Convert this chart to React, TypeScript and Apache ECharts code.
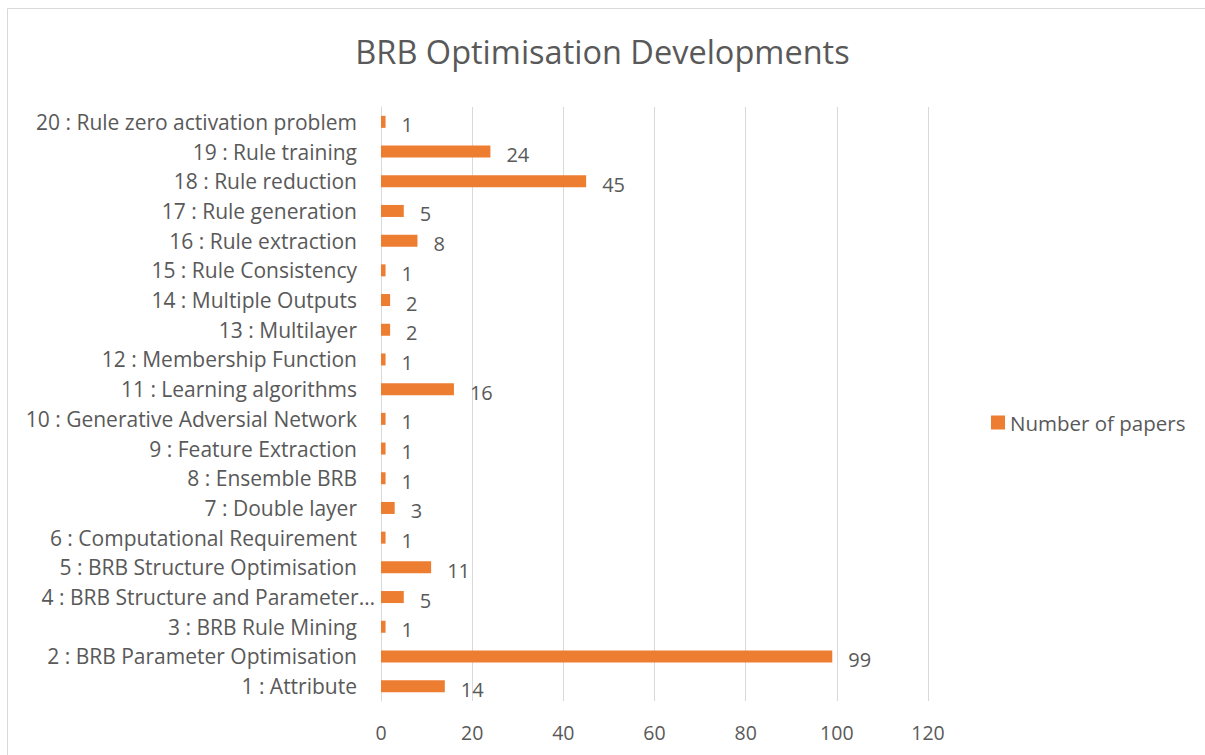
import React, { useEffect, useRef } from "react";
import * as echarts from "echarts";

const categories = [
  "1 : Attribute",
  "2 : BRB Parameter Optimisation",
  "3 : BRB Rule Mining",
  "4 : BRB Structure and Parameter…",
  "5 : BRB Structure Optimisation",
  "6 : Computational Requirement",
  "7 : Double layer",
  "8 : Ensemble BRB",
  "9 : Feature Extraction",
  "10 : Generative Adversial Network",
  "11 : Learning algorithms",
  "12 : Membership Function",
  "13 : Multilayer",
  "14 : Multiple Outputs",
  "15 : Rule Consistency",
  "16 : Rule extraction",
  "17 : Rule generation",
  "18 : Rule reduction",
  "19 : Rule training",
  "20 : Rule zero activation problem",
];
const papers = [14, 99, 1, 5, 11, 1, 3, 1, 1, 1, 16, 1, 2, 2, 1, 8, 5, 45, 24, 1];
const xTicks = [0, 20, 40, 60, 80, 100, 120];

const FONT = "'Open Sans', sans-serif";
const GREY = "#595959";
const ORANGE = "#ED7D31";

export default function App() {
  const ref = useRef<HTMLDivElement>(null);
  useEffect(() => {
    const chart = echarts.init(ref.current!, null, { renderer: "svg" });
    chart.setOption({
      animation: false,
      backgroundColor: "#fff",
      title: {
        text: "BRB Optimisation Developments",
        left: "center",
        top: 30,
        textStyle: { fontFamily: FONT, fontSize: 32.5, fontWeight: "normal", color: GREY },
      },
      graphic: [
        {
          type: "rect",
          shape: { x: 7.5, y: 8.5, width: 1300, height: 900 },
          style: { fill: "none", stroke: "#d9d9d9", lineWidth: 1 },
          silent: true,
        },
      ],
      legend: {
        orient: "vertical",
        left: 986,
        top: 407,
        itemWidth: 14,
        itemHeight: 14,
        itemGap: 6,
        icon: "rect",
        textStyle: { fontFamily: FONT, fontSize: 20.5, color: GREY },
        data: ["Number of papers"],
      },
      grid: { left: 381, right: 277, top: 107, bottom: 54, containLabel: false },
      xAxis: {
        type: "value",
        min: xTicks[0],
        max: xTicks[xTicks.length - 1],
        interval: 20,
        axisLine: { show: false },
        axisTick: { show: false },
        splitLine: { show: true, lineStyle: { color: "#d9d9d9", width: 1 } },
        axisLabel: { fontFamily: FONT, fontSize: 19.5, color: GREY, margin: 21 },
      },
      yAxis: {
        type: "category",
        data: categories,
        axisLine: { show: true, lineStyle: { color: "#d9d9d9", width: 1 } },
        axisTick: { show: false },
        axisLabel: {
          margin: 6,
          formatter: (v: string) => (v.endsWith("…") ? `{b|${v}}` : `{a|${v}}`),
          rich: {
            a: { fontFamily: FONT, fontSize: 21, color: GREY, padding: [0, 18, 0, 0] },
            b: { fontFamily: FONT, fontSize: 21, color: GREY },
          },
        },
      },
      series: [
        {
          name: "Number of papers",
          type: "bar",
          data: papers,
          barWidth: 12,
          itemStyle: { color: ORANGE },
          label: {
            show: true,
            position: "right",
            distance: 16,
            offset: [0, 3],
            fontFamily: FONT,
            fontSize: 20,
            color: GREY,
          },
        },
      ],
    });
    return () => chart.dispose();
  }, []);
  return <div ref={ref} style={{ width: 1205, height: 755, position: "absolute", left: 0, top: 0 }} />;
}
